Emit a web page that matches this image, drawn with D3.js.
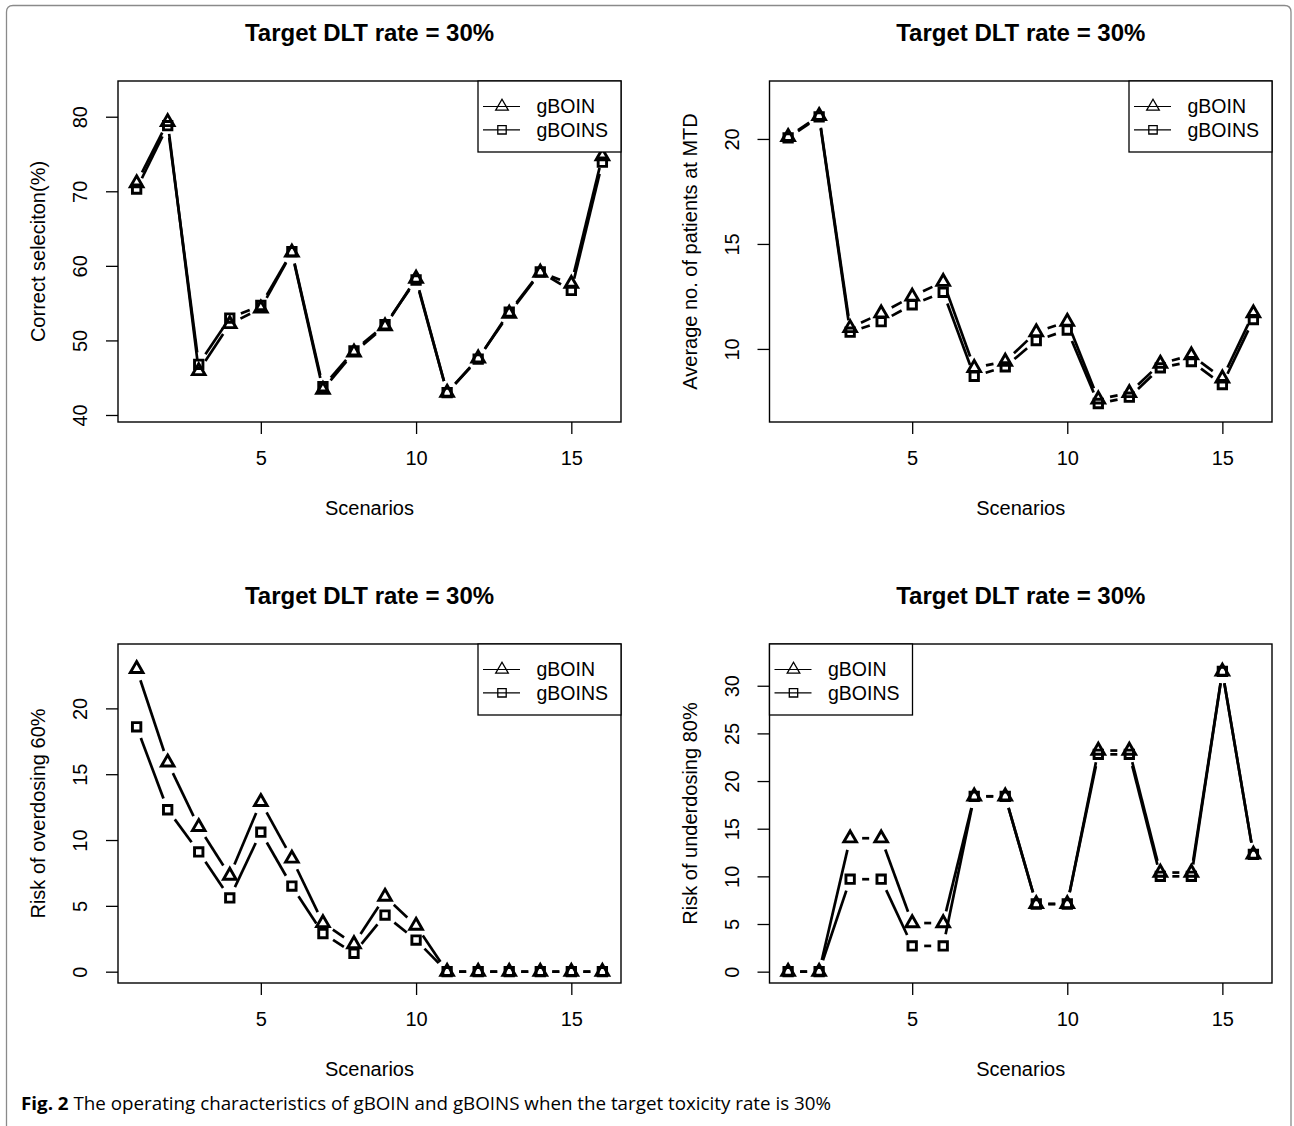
<!DOCTYPE html>
<html>
<head>
<meta charset="utf-8">
<script src="https://cdn.jsdelivr.net/npm/d3@7"></script>
<style>
  body { margin: 0; background: #fff; }
  svg { display: block; }
  text { font-family: "Liberation Sans", Arial, Helvetica, sans-serif; fill: #000; }
</style>
</head>
<body>
<svg id="fig" width="1294" height="1126"></svg>
<script>
// Scenario numbers on the x axis
const scenarios = [1, 2, 3, 4, 5, 6, 7, 8, 9, 10, 11, 12, 13, 14, 15, 16];
const xTickValues = [5, 10, 15];
const seriesNames = ["gBOIN", "gBOINS"];
const panelTitle = "Target DLT rate = 30%";
const xLabel = "Scenarios";

// Correct selection (%)
const correctBOIN  = [71.1, 79.3, 45.9, 52.2, 54.3, 61.8, 43.4, 48.4, 51.9, 58.3, 43.0, 47.6, 53.6, 59.1, 57.6, 74.7];
const correctBOINS = [70.3, 78.8, 46.8, 53.0, 54.7, 61.9, 43.8, 48.6, 52.1, 58.1, 43.0, 47.5, 53.8, 59.2, 56.7, 73.9];
const correctTicks = [40, 50, 60, 70, 80];

// Average no. of patients at MTD
const mtdBOIN  = [20.1, 21.1, 11.0, 11.7, 12.5, 13.2, 9.1, 9.4, 10.8, 11.3, 7.6, 7.9, 9.3, 9.7, 8.6, 11.7];
const mtdBOINS = [20.05, 21.05, 10.8, 11.3, 12.1, 12.7, 8.7, 9.15, 10.4, 10.9, 7.4, 7.7, 9.1, 9.4, 8.3, 11.4];
const mtdTicks = [10, 15, 20];

// Risk of overdosing 60%
const overBOIN  = [23.0, 15.9, 11.0, 7.3, 12.9, 8.6, 3.7, 2.1, 5.7, 3.5, 0, 0, 0, 0, 0, 0];
const overBOINS = [18.6, 12.3, 9.1, 5.6, 10.6, 6.5, 2.9, 1.4, 4.3, 2.4, 0, 0, 0, 0, 0, 0];
const overTicks = [0, 5, 10, 15, 20];

// Risk of underdosing 80%
const underBOIN  = [0, 0, 14.0, 14.0, 5.1, 5.1, 18.4, 18.4, 7.1, 7.1, 23.2, 23.2, 10.4, 10.4, 31.5, 12.3];
const underBOINS = [0, 0, 9.7, 9.7, 2.7, 2.7, 18.4, 18.4, 7.1, 7.1, 22.8, 22.8, 10.0, 10.0, 31.5, 12.3];
const underTicks = [0, 5, 10, 15, 20, 25, 30];

const captionBold = "Fig. 2";
const captionText = " The operating characteristics of gBOIN and gBOINS when the target toxicity rate is 30%";

const svg = d3.select("#fig");

// outer figure frame (rounded top corners, open at the bottom)
svg.append("path")
  .attr("d", "M6.5,1130 L6.5,12 Q6.5,5.5 13,5.5 L1284.5,5.5 Q1291,5.5 1291,12 L1291,1130")
  .attr("fill", "none")
  .attr("stroke", "#8a8a8a")
  .attr("stroke-width", 1.3);

const panels = [
  { x0: 118, x1: 621, y0: 81, y1: 422, yDomain: [39.06, 84.79], ticks: correctTicks,
    ylab: "Correct seleciton(%)", series: [correctBOIN, correctBOINS], legend: "right" },
  { x0: 769.5, x1: 1272, y0: 81, y1: 422, yDomain: [6.52, 22.76], ticks: mtdTicks,
    ylab: "Average no. of patients at MTD", series: [mtdBOIN, mtdBOINS], legend: "right" },
  { x0: 118, x1: 621, y0: 644, y1: 983, yDomain: [-0.86, 24.89], ticks: overTicks,
    ylab: "Risk of overdosing 60%", series: [overBOIN, overBOINS], legend: "right" },
  { x0: 769.5, x1: 1272, y0: 644, y1: 983, yDomain: [-1.19, 34.38], ticks: underTicks,
    ylab: "Risk of underdosing 80%", series: [underBOIN, underBOINS], legend: "left" }
];

// R pch 2 / pch 0 shapes
const markerPath = [
  "M0,-7.3L6.3,3.65L-6.3,3.65Z",
  "M-4.2,-4.2H4.2V4.2H-4.2Z"
];
const GAP = 12;

function drawPanel(p) {
  const g = svg.append("g");
  const x = d3.scaleLinear().domain([0.4, 16.6]).range([p.x0, p.x1]);
  const y = d3.scaleLinear().domain(p.yDomain).range([p.y1, p.y0]);

  // title
  g.append("text")
    .attr("x", (p.x0 + p.x1) / 2).attr("y", p.y0 - 40)
    .attr("text-anchor", "middle")
    .style("font-size", "24px").style("font-weight", "bold")
    .text(panelTitle);

  // x axis
  const xa = g.append("g").attr("transform", `translate(0,${p.y1})`)
    .call(d3.axisBottom(x).tickValues(xTickValues).tickSize(12).tickPadding(0));
  xa.select(".domain").remove();
  xa.selectAll("line").attr("stroke", "#000").attr("stroke-width", 1.3);
  xa.selectAll("text").attr("y", 43).attr("dy", 0)
    .style("font-size", "20px").style("font-family", "Liberation Sans, Arial, sans-serif");

  // y axis
  const ya = g.append("g").attr("transform", `translate(${p.x0},0)`)
    .call(d3.axisLeft(y).tickValues(p.ticks).tickSize(12));
  ya.select(".domain").remove();
  ya.selectAll("line").attr("stroke", "#000").attr("stroke-width", 1.3);
  ya.selectAll("text")
    .attr("x", 0).attr("dy", "0.358em").attr("text-anchor", "middle")
    .attr("transform", "translate(-38,0) rotate(-90)")
    .style("font-size", "20px").style("font-family", "Liberation Sans, Arial, sans-serif");

  // x label and y label
  g.append("text")
    .attr("x", (p.x0 + p.x1) / 2).attr("y", p.y1 + 93)
    .attr("text-anchor", "middle").style("font-size", "20px")
    .text(xLabel);
  g.append("text")
    .attr("transform", `translate(${p.x0 - 73},${(p.y0 + p.y1) / 2}) rotate(-90)`)
    .attr("text-anchor", "middle").style("font-size", "20px")
    .text(p.ylab);

  // plot box
  g.append("rect")
    .attr("x", p.x0).attr("y", p.y0)
    .attr("width", p.x1 - p.x0).attr("height", p.y1 - p.y0)
    .attr("fill", "none").attr("stroke", "#000").attr("stroke-width", 1.4);

  // series drawn as R type="b": segments broken around each point
  p.series.forEach((vals, si) => {
    const pts = scenarios.map((s, i) => [x(s), y(vals[i])]);
    const segs = [];
    for (let i = 0; i < pts.length - 1; i++) {
      const [xa0, ya0] = pts[i], [xb, yb] = pts[i + 1];
      const dx = xb - xa0, dy = yb - ya0, len = Math.hypot(dx, dy);
      if (len <= 2 * GAP) continue;
      const ux = dx / len, uy = dy / len;
      segs.push([xa0 + ux * GAP, ya0 + uy * GAP, xb - ux * GAP, yb - uy * GAP]);
    }
    g.append("g").selectAll("line").data(segs).enter().append("line")
      .attr("x1", d => d[0]).attr("y1", d => d[1])
      .attr("x2", d => d[2]).attr("y2", d => d[3])
      .attr("stroke", "#000").attr("stroke-width", 2.7);
    g.append("g").selectAll("path").data(pts).enter().append("path")
      .attr("d", markerPath[si])
      .attr("transform", d => `translate(${d[0]},${d[1]})`)
      .attr("fill", "none").attr("stroke", "#000").attr("stroke-width", 2.9)
      .attr("stroke-linejoin", "miter");
  });

  // legend
  const lw = 143, lh = 71;
  const lx = p.legend === "right" ? p.x1 - lw : p.x0;
  const lg = g.append("g").attr("transform", `translate(${lx},${p.y0})`);
  lg.append("rect").attr("width", lw).attr("height", lh)
    .attr("fill", "#fff").attr("stroke", "#000").attr("stroke-width", 1.3);
  seriesNames.forEach((name, i) => {
    const ly = 25.5 + i * 23.3;
    lg.append("line").attr("x1", 5).attr("x2", 42).attr("y1", ly).attr("y2", ly)
      .attr("stroke", "#000").attr("stroke-width", 1.2);
    lg.append("path").attr("d", markerPath[i])
      .attr("transform", `translate(24,${ly})`)
      .attr("fill", "none").attr("stroke", "#000").attr("stroke-width", 1.3);
    lg.append("text").attr("x", 58.5).attr("y", ly).attr("dy", "0.35em")
      .style("font-size", "19.5px").text(name);
  });
}

panels.forEach(drawPanel);

// caption
const cap = svg.append("text")
  .attr("x", 21).attr("y", 1110)
  .attr("textLength", 810).attr("lengthAdjust", "spacingAndGlyphs")
  .style("font-family", "'Open Sans', 'Noto Sans', sans-serif")
  .style("font-size", "18px");
cap.append("tspan").style("font-weight", "bold").text(captionBold);
cap.append("tspan").text(captionText);
</script>
</body>
</html>
